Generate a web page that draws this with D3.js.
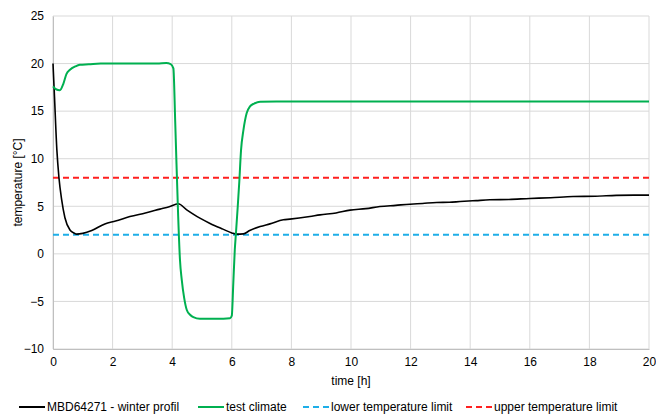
<!DOCTYPE html>
<html>
<head>
<meta charset="utf-8">
<script src="https://cdn.jsdelivr.net/npm/d3@7"></script>
<style>
	body { margin: 0; background: #fff; }
	svg text { font-family: "Liberation Sans", Arial, sans-serif; fill: #000; }
</style>
</head>
<body>
<svg id="chart" width="656" height="415"></svg>
<script>
const colors = {
	profil: "#000000",
	climate: "#00b050",
	lower: "#1eaee8",
	upper: "#ff2020",
	grid: "#d9d9d9",
};

// MBD64271 - winter profil
const profilTime = [0, 0.05, 0.13, 0.2, 0.29, 0.4, 0.57, 0.7, 0.8, 1.0, 1.3, 1.74, 2.1, 2.58, 3.1, 3.59, 3.9, 4.2, 4.5, 4.93, 5.27, 5.7, 6.0, 6.16, 6.39, 6.6, 6.95, 7.28, 7.73, 7.95, 8.62, 8.96, 9.5, 9.97, 10.5, 10.97, 11.5, 11.98, 12.4, 12.87, 13.3, 13.66, 14.2, 14.66, 15.3, 16.0, 16.7, 17.45, 18.2, 18.9, 19.5, 20];
const profilTemp = [20, 16.5, 10.9, 8, 5.7, 3.8, 2.5, 2.2, 2.07, 2.15, 2.45, 3.15, 3.45, 3.92, 4.3, 4.7, 4.95, 5.26, 4.6, 3.75, 3.2, 2.6, 2.2, 2.07, 2.1, 2.45, 2.87, 3.15, 3.58, 3.65, 3.93, 4.1, 4.3, 4.6, 4.75, 4.97, 5.1, 5.22, 5.3, 5.4, 5.42, 5.5, 5.6, 5.68, 5.72, 5.82, 5.9, 6.03, 6.05, 6.15, 6.17, 6.17];

// test climate
const climateTime = [0, 0.1, 0.23, 0.35, 0.45, 0.57, 0.75, 0.9, 1.2, 1.6, 2.5, 3.5, 3.8, 3.95, 4.04, 4.1, 4.13, 4.2, 4.26, 4.32, 4.4, 4.49, 4.6, 4.71, 4.93, 5.5, 5.94, 6.0, 6.05, 6.1, 6.14, 6.2, 6.25, 6.31, 6.39, 6.5, 6.61, 6.75, 6.95, 7.5, 10, 15, 20];
const climateTemp = [17.6, 17.3, 17.2, 17.9, 18.9, 19.35, 19.7, 19.87, 19.92, 20, 20, 20, 20.05, 19.95, 19.5, 14, 10.9, 4, -0.6, -2.7, -4.6, -5.9, -6.4, -6.66, -6.83, -6.83, -6.77, -6.5, -3.1, 0.4, 2.2, 5, 7.5, 10.9, 13, 14.8, 15.5, 15.8, 16, 16.02, 16.02, 16.02, 16.02];

const lowerLimit = 2;
const upperLimit = 8;

const xTicks = [0, 2, 4, 6, 8, 10, 12, 14, 16, 18, 20];
const yTicks = [-10, -5, 0, 5, 10, 15, 20, 25];

const legendLabels = ["MBD64271 - winter profil", "test climate", "lower temperature limit", "upper temperature limit"];

const margin = { top: 16, right: 7, bottom: 66, left: 53 };
const width = 656;
const height = 415;
const fontSize = 12;

const svg = d3.select("#chart");

const x = d3.scaleLinear().domain([0, 20]).range([margin.left, width - margin.right]);
const y = d3.scaleLinear().domain([-10, 25]).range([height - margin.bottom, margin.top]);

// grid
svg.append("g")
	.selectAll("line")
	.data(xTicks)
	.join("line")
	.attr("x1", (d) => x(d))
	.attr("x2", (d) => x(d))
	.attr("y1", y(-10))
	.attr("y2", y(25))
	.attr("stroke", colors.grid)
	.attr("stroke-width", 1);

svg.append("g")
	.selectAll("line")
	.data(yTicks)
	.join("line")
	.attr("x1", x(0))
	.attr("x2", x(20))
	.attr("y1", (d) => y(d))
	.attr("y2", (d) => y(d))
	.attr("stroke", colors.grid)
	.attr("stroke-width", 1);

// axes
const xAxis = svg.append("g")
	.attr("transform", `translate(0,${y(-10)})`)
	.call(d3.axisBottom(x).tickValues(xTicks).tickSize(0).tickPadding(8));
xAxis.select(".domain").attr("stroke", "#bfbfbf");
xAxis.selectAll("text").attr("font-size", fontSize);

const yAxis = svg.append("g")
	.attr("transform", `translate(${x(0)},0)`)
	.call(d3.axisLeft(y).tickValues(yTicks).tickSize(0).tickPadding(9));
yAxis.select(".domain").attr("stroke", "#bfbfbf");
yAxis.selectAll("text").attr("font-size", fontSize);

svg.append("text")
	.attr("x", (x(0) + x(20)) / 2)
	.attr("y", 385)
	.attr("text-anchor", "middle")
	.attr("font-size", fontSize)
	.text("time [h]");

svg.append("text")
	.attr("transform", `translate(21.5,${(y(-10) + y(25)) / 2}) rotate(-90)`)
	.attr("text-anchor", "middle")
	.attr("font-size", fontSize)
	.text("temperature [°C]");

// limits
const limits = [
	{ value: lowerLimit, color: colors.lower },
	{ value: upperLimit, color: colors.upper },
];
svg.append("g")
	.selectAll("line")
	.data(limits)
	.join("line")
	.attr("x1", x(0))
	.attr("x2", x(20))
	.attr("y1", (d) => y(d.value))
	.attr("y2", (d) => y(d.value))
	.attr("stroke", (d) => d.color)
	.attr("stroke-width", 2)
	.attr("stroke-dasharray", "6,4");

// series
const line = d3.line()
	.x((d) => x(d[0]))
	.y((d) => y(d[1]))
	.curve(d3.curveMonotoneX);

const series = [
	{ data: d3.zip(profilTime, profilTemp), color: colors.profil, w: 1.6 },
	{ data: d3.zip(climateTime, climateTemp), color: colors.climate, w: 2 },
];

svg.append("g")
	.selectAll("path")
	.data(series)
	.join("path")
	.attr("d", (d) => line(d.data))
	.attr("fill", "none")
	.attr("stroke", (d) => d.color)
	.attr("stroke-width", (d) => d.w)
	.attr("stroke-linejoin", "round");

// legend
const legendItems = [
	{ label: legendLabels[0], color: colors.profil, dash: null, x: 19 },
	{ label: legendLabels[1], color: colors.climate, dash: null, x: 198 },
	{ label: legendLabels[2], color: colors.lower, dash: "6,4", x: 303 },
	{ label: legendLabels[3], color: colors.upper, dash: "6,4", x: 466 },
];

const legend = svg.append("g")
	.selectAll("g")
	.data(legendItems)
	.join("g")
	.attr("transform", (d) => `translate(${d.x},407)`);

legend.append("line")
	.attr("x1", 0)
	.attr("x2", 26)
	.attr("stroke", (d) => d.color)
	.attr("stroke-width", 2)
	.attr("stroke-dasharray", (d) => d.dash);

legend.append("text")
	.attr("x", 28)
	.attr("y", 4.3)
	.attr("font-size", fontSize)
	.text((d) => d.label);
</script>
</body>
</html>
